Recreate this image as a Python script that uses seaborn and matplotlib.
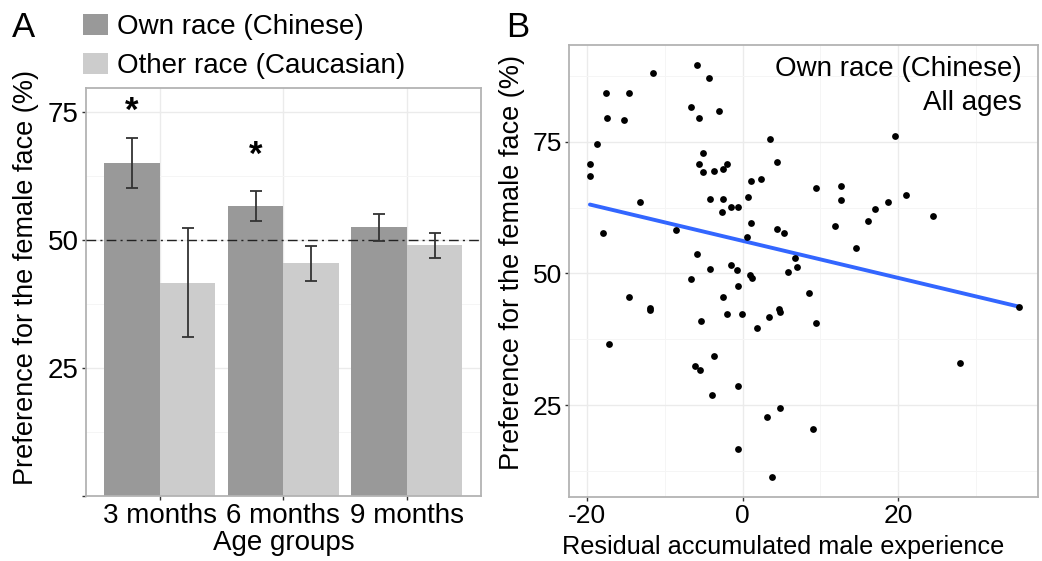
import numpy as np
import pandas as pd
import matplotlib
matplotlib.use("Agg")
import matplotlib.pyplot as plt
import seaborn as sns

# ---------------- Panel A data ----------------
ages = ["3 months", "6 months", "9 months"]
groups = ["Own race (Chinese)", "Other race (Caucasian)"]
own_mean = [65.1, 56.7, 52.5]
own_err = [4.85, 2.95, 2.7]
other_mean = [41.7, 45.5, 49.0]
other_err = [10.6, 3.45, 2.5]
star_ages = ["3 months", "6 months"]
star_y = [73.3, 64.8]

# ---------------- Panel B data ----------------
resid_x = [-11.57, -5.91, -4.37, -17.56, -14.60, -17.39, -15.21, -6.59, -5.60, -3.08,
           -18.71, 3.52, -19.61, -19.58, -5.14, -5.57, -5.09, -3.64, -2.57, -2.03,
           4.40, 1.03, 2.37, -13.24, -4.19, -2.54, -2.61, -1.54, -0.55, 0.69,
           -17.94, -8.61, 1.03, 4.40, 5.30, 0.63, -5.91, -4.19, -1.54, -0.77,
           -6.68, 0.93, 1.18, 5.84, 6.74, 7.03, 19.54, 9.43, 12.60, 12.60,
           21.04, 18.73, 17.02, 24.51, 16.07, 11.83, 14.61, -0.55, 8.48, -14.56,
           -2.57, -11.95, -11.95, -1.97, -0.08, -5.31, 1.80, 3.41, 4.72, 4.81,
           9.43, -17.10, -3.68, -6.17, -5.53, -0.55, -3.89, 27.98, 4.76, 3.08,
           9.00, -0.55, 3.73, 35.57]
pref_y = [88.1, 89.5, 87.1, 84.2, 84.2, 79.5, 79.1, 81.5, 79.5, 80.8,
          74.5, 75.5, 70.8, 68.5, 72.8, 70.8, 69.2, 69.5, 69.8, 70.8,
          71.2, 67.5, 67.9, 63.5, 64.2, 64.2, 61.6, 62.6, 62.6, 64.5,
          57.6, 58.3, 59.6, 58.5, 57.6, 56.9, 53.6, 50.9, 51.6, 50.6,
          49.0, 49.6, 49.2, 50.2, 52.9, 51.3, 76.1, 66.2, 66.6, 64.0,
          64.9, 63.5, 62.2, 60.9, 59.9, 58.9, 54.9, 47.6, 46.3, 45.6,
          45.6, 43.5, 43.0, 42.3, 42.3, 40.9, 39.6, 41.7, 43.2, 42.6,
          40.6, 36.6, 34.3, 32.4, 31.7, 28.7, 27.0, 33.0, 24.4, 22.7,
          20.4, 16.7, 11.4, 43.6]

sns.set_theme(style="whitegrid")
plt.rcParams["font.family"] = ["Liberation Sans", "DejaVu Sans"]
plt.rcParams["text.color"] = "black"
plt.rcParams["axes.labelcolor"] = "black"
plt.rcParams["axes.unicode_minus"] = False

FS = 20
W, H = 1042, 561
fig = plt.figure(figsize=(W / 100, H / 100), dpi=100)


def frac_rect(l, t, r, b):
    return [l / W, 1 - b / H, (r - l) / W, (b - t) / H]


axA = fig.add_axes(frac_rect(85.7, 88.3, 481, 496))
axB = fig.add_axes(frac_rect(569, 45.3, 1037.5, 496.7))


def style_axes(ax, fs):
    ax.set_facecolor("white")
    for s in ax.spines.values():
        s.set_visible(True)
        s.set_color("#b3b3b3")
        s.set_linewidth(1.3)
    ax.grid(True, which="major", color="#ebebeb", linewidth=1.0)
    ax.grid(True, which="minor", color="#f5f5f5", linewidth=0.7)
    ax.set_axisbelow(True)
    ax.tick_params(axis="both", which="major", length=3, width=1, color="#333333",
                   labelsize=fs, labelcolor="black", pad=2, left=True, bottom=True)
    ax.tick_params(axis="both", which="minor", length=0)


# ---------------- Panel A ----------------
dfA = pd.DataFrame({
    "age": ages * 2,
    "group": [groups[0]] * 3 + [groups[1]] * 3,
    "pref": own_mean + other_mean,
})
sns.barplot(data=dfA, x="age", y="pref", hue="group", hue_order=groups,
            palette=["#999999", "#cccccc"], width=0.9, errorbar=None,
            saturation=1, linewidth=0, ax=axA, zorder=2)

for cont, errs in zip(axA.containers, [own_err, other_err]):
    for bar, e in zip(cont, errs):
        cx = bar.get_x() + bar.get_width() / 2
        axA.errorbar(cx, bar.get_height(), yerr=e, color="#333333", capsize=4.5,
                     elinewidth=1.3, capthick=1.3, zorder=4)

axA.axhline(50, color="#222222", linewidth=1.0, linestyle=(0, (7, 3, 1.5, 3)), zorder=3)

for age, sy in zip(star_ages, star_y):
    xi = ages.index(age)
    cx = axA.containers[0][xi].get_x() + axA.containers[0][xi].get_width() / 2
    axA.text(cx, sy, "*", ha="center", va="baseline", fontsize=25,
             fontweight="bold", color="black", zorder=5)

axA.set_xlim(-0.6, 2.6)
axA.set_ylim(0, 79.7)
axA.set_yticks([0, 25, 50, 75])
axA.set_yticklabels(["", "25", "50", "75"])
axA.set_yticks([12.5, 37.5, 62.5], minor=True)
style_axes(axA, FS)
axA.set_xlabel("Age groups", fontsize=FS)
axA.set_ylabel("Preference for the female face (%)", fontsize=19.5)
axA.xaxis.set_label_coords(0.5, -0.083)
axA.yaxis.set_label_coords(-0.118, 0.535)

sns.move_legend(axA, "upper left", bbox_to_anchor=(83.3 / W, 1 - 13.5 / H),
                bbox_transform=fig.transFigure, title=None, frameon=False,
                fontsize=FS, handlelength=0.9, handleheight=0.8,
                handletextpad=0.3, labelspacing=0.46, borderaxespad=0, borderpad=0)

# ---------------- Panel B ----------------
sns.regplot(x=resid_x, y=pref_y, ci=None, ax=axB,
            scatter_kws=dict(s=24, color="black", alpha=1, linewidths=0, zorder=4),
            line_kws=dict(color="#3366FF", linewidth=2.8, zorder=3))
axB.set_xlim(-22.3, 37.9)
axB.set_ylim(7.6, 93.3)
axB.set_xticks([-20, 0, 20])
axB.set_xticks([-10, 10, 30], minor=True)
axB.set_yticks([25, 50, 75])
axB.set_yticks([12.5, 37.5, 62.5, 87.5], minor=True)
style_axes(axB, 19)
axB.set_xlabel("Residual accumulated male experience", fontsize=18.2)
axB.set_ylabel("Preference for the female face (%)", fontsize=19.5)
axB.xaxis.set_label_coords(0.457, -0.085)
axB.yaxis.set_label_coords(-0.094, 0.519)

axB.text(0.966, 0.932, "Own race (Chinese)", transform=axB.transAxes,
         ha="right", va="baseline", fontsize=FS)
axB.text(0.966, 0.8567, "All ages", transform=axB.transAxes,
         ha="right", va="baseline", fontsize=FS)

fig.text(12 / W, 1 - 37 / H, "A", fontsize=25, va="baseline", ha="left")
fig.text(506 / W, 1 - 37 / H, "B", fontsize=25, va="baseline", ha="left")

fig.savefig("out.png", dpi=100)
